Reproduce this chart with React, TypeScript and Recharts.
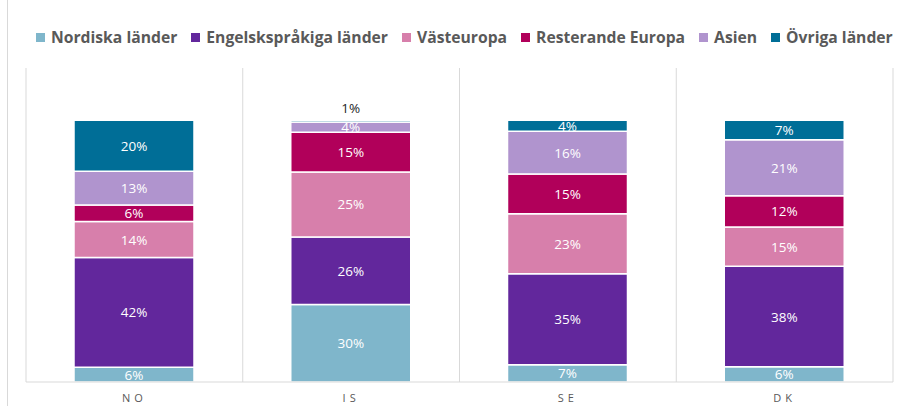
import React from 'react';
import { BarChart, Bar, XAxis, YAxis, CartesianGrid, LabelList } from 'recharts';

const categories = ['NO', 'IS', 'SE', 'DK'];
const seriesNames = ['Nordiska länder', 'Engelskspråkiga länder', 'Västeuropa', 'Resterande Europa', 'Asien', 'Övriga länder'];
const seriesKeys = ['nordiska', 'engelsk', 'vast', 'rest', 'asien', 'ovriga'];
const seriesColors = ['#7FB6CB', '#62279C', '#D77FAB', '#B1005A', '#B094CE', '#006E97'];

const nordiska = [5.6, 29.6, 6.6, 5.8];
const engelsk = [42.0, 25.8, 34.8, 38.4];
const vast = [13.7, 24.9, 22.9, 15.0];
const rest = [6.3, 15.1, 15.2, 12.0];
const asien = [12.9, 4.0, 16.3, 21.4];
const ovriga = [19.5, 0.6, 4.2, 7.4];

const seriesValues = [nordiska, engelsk, vast, rest, asien, ovriga];

const data = categories.map((c, i) => {
  const row: any = { name: c };
  seriesKeys.forEach((k, j) => {
    row[k] = seriesValues[j][i];
  });
  return row;
});

const FONT = '"Open Sans", "Noto Sans", sans-serif';

const renderLabel = (props: any) => {
  const { x, y, width, height, value } = props;
  const cx = Number(x) + Number(width) / 2;
  const v = Number(value);
  if (v < 2) {
    return (
      <text x={cx} y={Number(y) - 7} textAnchor="middle" fill="#262626" fontSize={13.5} fontFamily={FONT}>
        {Math.round(v)}%
      </text>
    );
  }
  return (
    <text
      x={cx}
      y={Number(y) + Number(height) / 2}
      textAnchor="middle"
      dominantBaseline="central"
      fill="#ffffff"
      fontSize={13.5}
      fontFamily={FONT}
    >
      {Math.round(v)}%
    </text>
  );
};

const renderTick = (props: any) => {
  const { x, y, payload } = props;
  return (
    <text
      x={x}
      y={y + 12}
      textAnchor="middle"
      fill="#595959"
      fontSize={11}
      fontFamily={FONT}
      letterSpacing={4}
    >
      {payload.value}
    </text>
  );
};

const Legend = () => (
  <div
    style={{
      position: 'absolute',
      left: 36,
      top: 26,
      display: 'flex',
      alignItems: 'center',
      fontFamily: FONT,
      fontWeight: 700,
      fontSize: 15.7,
      color: '#595959',
      whiteSpace: 'nowrap',
    }}
  >
    {seriesNames.map((n, i) => (
      <div key={n} style={{ display: 'flex', alignItems: 'center', marginRight: 14 }}>
        <span style={{ width: 9, height: 9, background: seriesColors[i], display: 'inline-block', marginRight: 6 }} />
        <span>{n}</span>
      </div>
    ))}
  </div>
);

export default function App() {
  return (
    <div style={{ position: 'absolute', left: 0, top: 0, width: 901, height: 406, background: '#fff' }}>
      <div style={{ position: 'absolute', left: 7, top: 0, width: 1, height: 406, background: '#d9d9d9' }} />
      <Legend />
      <div style={{ position: 'absolute', left: 0, top: 0 }}>
        <BarChart
          width={901}
          height={406}
          data={data}
          margin={{ top: 68, right: 8, bottom: 0, left: 26 }}
          barSize={120}
        >
          <CartesianGrid
            horizontal={false}
            stroke="#d9d9d9"
            verticalCoordinatesGenerator={({ offset }: any) =>
              [0, 1, 2, 3, 4].map((i) => offset.left + (i * offset.width) / 4)
            }
          />
          <XAxis
            dataKey="name"
            axisLine={{ stroke: '#d9d9d9' }}
            tickLine={false}
            tick={renderTick}
            height={24}
            interval={0}
          />
          <YAxis hide domain={[0, 120]} />
          {seriesKeys.map((k, i) => (
            <Bar
              key={k}
              dataKey={k}
              stackId="a"
              fill={seriesColors[i]}
              stroke="#ffffff"
              strokeWidth={1.5}
              isAnimationActive={false}
            >
              <LabelList dataKey={k} content={renderLabel} />
            </Bar>
          ))}
        </BarChart>
      </div>
    </div>
  );
}
